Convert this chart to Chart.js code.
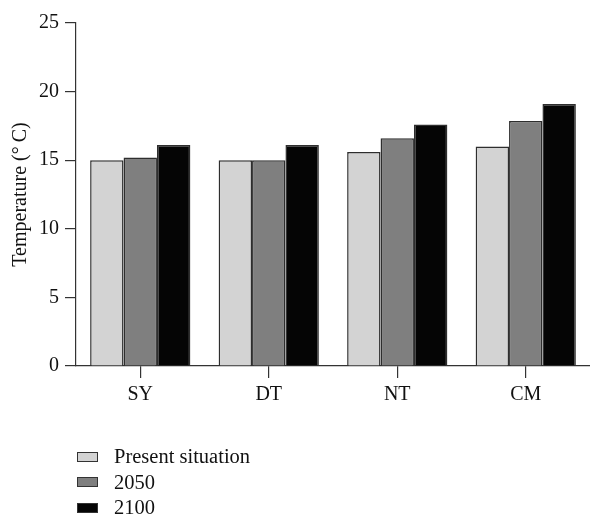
<!DOCTYPE html>
<html>
<head>
<meta charset="utf-8">
<script src="https://cdn.jsdelivr.net/npm/chart.js@4"></script>
<style>
  html, body { margin: 0; padding: 0; background: #fff; }
  #wrap { position: relative; width: 590px; height: 516px; }
  #legend { position: absolute; left: 77px; top: 444px; font-family: "Liberation Serif", "Times New Roman", serif; font-size: 20.5px; color: #111; }
  #legend .item { display: flex; align-items: center; height: 25.5px; }
  #legend .box { width: 19px; height: 8px; border: 1.2px solid #333; margin-right: 16px; }
</style>
</head>
<body>
<div id="wrap">
  <canvas id="chart" width="590" height="516"></canvas>
  <div id="legend"></div>
</div>
<script>
// Sites and mean temperatures for each scenario
const sites = ["SY", "DT", "NT", "CM"];
const presentSituation = [15.0, 15.0, 15.6, 16.0];
const year2050 = [15.2, 15.0, 16.6, 17.85];
const year2100 = [16.1, 16.1, 17.6, 19.1];
const seriesNames = ["Present situation", "2050", "2100"];
const yTicks = [0, 5, 10, 15, 20, 25];

const fills = ["#d3d3d3", "#7f7f7f", "#050505"];
const edge = "#2e2e2e";
const serif = "'Liberation Serif', 'Times New Roman', serif";

const ctx = document.getElementById("chart").getContext("2d");
const chart = new Chart(ctx, {
  type: "bar",
  data: {
    labels: sites,
    datasets: [presentSituation, year2050, year2100].map((vals, i) => ({
      label: seriesNames[i],
      data: vals,
      backgroundColor: fills[i],
      borderColor: edge,
      borderWidth: 1.5,
      borderSkipped: "bottom",
      categoryPercentage: 0.78,
      barPercentage: 1.0
    }))
  },
  options: {
    responsive: false,
    animation: false,
    layout: { padding: { top: 23, right: 0, bottom: 104, left: 4 } },
    plugins: {
      legend: { display: false },
      tooltip: { enabled: false }
    },
    scales: {
      x: {
        offset: true,
        grid: { display: true, offset: false, drawOnChartArea: false, drawTicks: true, tickLength: 12, color: "#333", lineWidth: 1.2 },
        border: { display: true, color: "#333", width: 1.2 },
        ticks: { color: "#111", font: { family: serif, size: 20 }, padding: 5 }
      },
      y: {
        min: 0,
        max: 25,
        afterBuildTicks: (axis) => { axis.ticks = yTicks.map(v => ({ value: v })); },
        grid: { display: true, drawOnChartArea: false, drawTicks: true, tickLength: 11, color: "#333", lineWidth: 1.2 },
        border: { display: true, color: "#333", width: 1.2 },
        ticks: { color: "#111", font: { family: serif, size: 20 }, padding: 6 },
        title: { display: true, text: "Temperature (\u00B0\u2009C)", color: "#111", font: { family: serif, size: 20 }, padding: { top: 5, bottom: 0 } }
      }
    }
  }
});

// Vertical legend under the plot, built from the chart's own legend items
const legendEl = document.getElementById("legend");
chart.options.plugins.legend.labels.generateLabels(chart).forEach(item => {
  const row = document.createElement("div");
  row.className = "item";
  const box = document.createElement("span");
  box.className = "box";
  box.style.background = item.fillStyle;
  const txt = document.createElement("span");
  txt.textContent = item.text;
  row.appendChild(box);
  row.appendChild(txt);
  legendEl.appendChild(row);
});
</script>
</body>
</html>
